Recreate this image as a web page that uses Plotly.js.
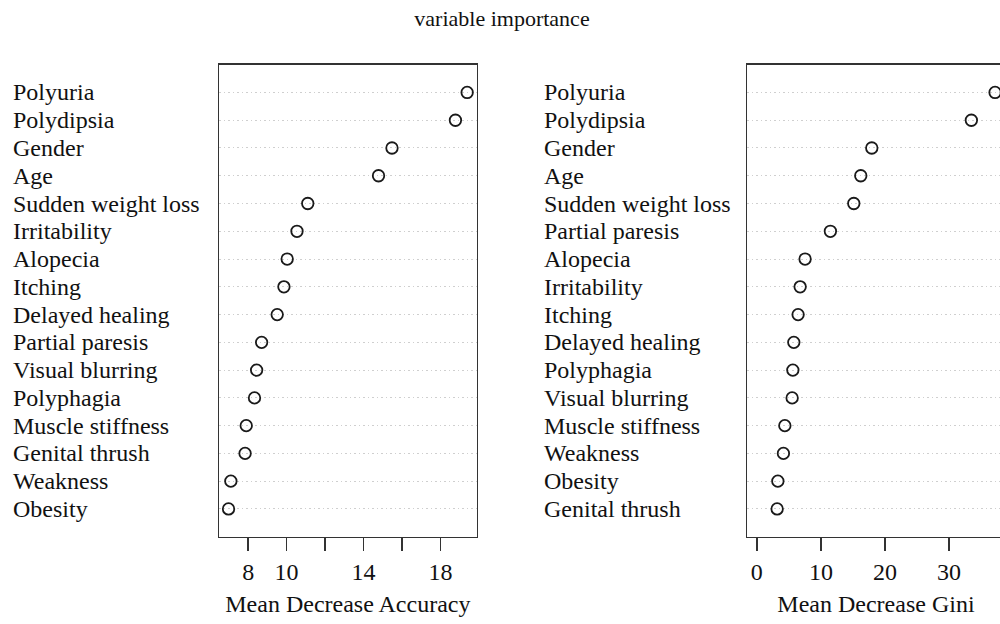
<!DOCTYPE html>
<html>
<head>
<meta charset="utf-8">
<script src="https://cdn.plot.ly/plotly-3.0.1.min.js"></script>
<style>
html, body { margin: 0; padding: 0; overflow: hidden; background: #fff; }
#chart { width: 1010px; height: 624px; }
</style>
</head>
<body>
<div id="chart"></div>
<script>
// Left panel: Mean Decrease Accuracy (top to bottom order)
const accLabels = ["Polyuria", "Polydipsia", "Gender", "Age", "Sudden weight loss", "Irritability",
  "Alopecia", "Itching", "Delayed healing", "Partial paresis", "Visual blurring", "Polyphagia",
  "Muscle stiffness", "Genital thrush", "Weakness", "Obesity"];
const accValues = [19.39, 18.78, 15.48, 14.78, 11.10, 10.54, 10.03, 9.86, 9.51, 8.70, 8.44, 8.33,
  7.90, 7.84, 7.10, 6.98];

// Right panel: Mean Decrease Gini (top to bottom order)
const giniLabels = ["Polyuria", "Polydipsia", "Gender", "Age", "Sudden weight loss", "Partial paresis",
  "Alopecia", "Irritability", "Itching", "Delayed healing", "Polyphagia", "Visual blurring",
  "Muscle stiffness", "Weakness", "Obesity", "Genital thrush"];
const giniValues = [37.18, 33.48, 17.94, 16.22, 15.13, 11.48, 7.53, 6.76, 6.44, 5.77, 5.62, 5.51,
  4.37, 4.15, 3.28, 3.17];

const accTickVals = [8, 10, 12, 14, 16, 18];
const accTickText = ["8", "10", "", "14", "", "18"];
const giniTickVals = [0, 10, 20, 30];
const giniTickText = ["0", "10", "20", "30"];

const titleText = "variable importance";
const accTitle = "Mean Decrease Accuracy";
const giniTitle = "Mean Decrease Gini";

const FONT = "Liberation Serif, Times New Roman, serif";
const W = 1010, H = 624;
const FS = 24;

function padRange(lo, hi) { const d = (hi - lo) * 0.04; return [lo - d, hi + d]; }

const accRange = padRange(Math.min(...accValues), Math.max(...accValues));
const giniRange = padRange(0, Math.max(...giniValues));

const marker = { symbol: "circle-open", size: 11.5, color: "#1a1a1a", line: { width: 1.8, color: "#1a1a1a" } };

const traces = [
  { type: "scatter", mode: "markers", x: accValues, y: accLabels, xaxis: "x", yaxis: "y",
    marker: marker, hoverinfo: "x+y", showlegend: false },
  { type: "scatter", mode: "markers", x: giniValues, y: giniLabels, xaxis: "x2", yaxis: "y2",
    marker: marker, hoverinfo: "x+y", showlegend: false }
];

const yDomain = [1 - 536.7 / H, 1 - 64.7 / H];

function yAxis(labels) {
  return {
    domain: yDomain, type: "category",
    categoryorder: "array", categoryarray: labels.slice().reverse(),
    range: [-1, labels.length],
    showticklabels: false, ticks: "",
    showgrid: true, gridcolor: "#cfcfcf", griddash: "1.5px,3px", gridwidth: 1,
    showline: true, mirror: true, linecolor: "#333", linewidth: 1.4,
    zeroline: false, fixedrange: true
  };
}

function xAxis(domain, range, tv, tt, title) {
  return {
    domain: domain, range: range, tickvals: tv, ticktext: tt,
    ticks: "outside", ticklen: 13, tickwidth: 1.4, tickcolor: "#333",
    showgrid: false, zeroline: false,
    showline: true, mirror: true, linecolor: "#333", linewidth: 1.4,
    tickfont: { family: FONT, size: FS, color: "#111" },
    title: { text: title, font: { family: FONT, size: FS, color: "#111" }, standoff: 11 },
    fixedrange: true
  };
}

const annotations = [];
accLabels.forEach(l => annotations.push({ text: l, xref: "paper", yref: "y", x: 10.5 / W, y: l,
  xanchor: "left", yanchor: "middle", showarrow: false, font: { family: FONT, size: FS, color: "#111" } }));
giniLabels.forEach(l => annotations.push({ text: l, xref: "paper", yref: "y2", x: 542 / W, y: l,
  xanchor: "left", yanchor: "middle", showarrow: false, font: { family: FONT, size: FS, color: "#111" } }));

const layout = {
  width: W, height: H,
  margin: { l: 0, r: 0, t: 0, b: 0 },
  paper_bgcolor: "#fff", plot_bgcolor: "#fff",
  title: { text: titleText, font: { family: FONT, size: 22, color: "#111" },
    x: 502 / W, xanchor: "center", y: 1 - 18 / H, yanchor: "middle" },
  xaxis: xAxis([219 / W, 476.7 / W], accRange, accTickVals, accTickText, accTitle),
  yaxis: Object.assign(yAxis(accLabels), { anchor: "x" }),
  xaxis2: Object.assign(xAxis([747.3 / W, 1004.6 / W], giniRange, giniTickVals, giniTickText, giniTitle), { anchor: "y2" }),
  yaxis2: Object.assign(yAxis(giniLabels), { anchor: "x2" }),
  annotations: annotations
};
layout.xaxis.anchor = "y";

Plotly.newPlot("chart", traces, layout, { displayModeBar: false, staticPlot: true });
</script>
</body>
</html>
